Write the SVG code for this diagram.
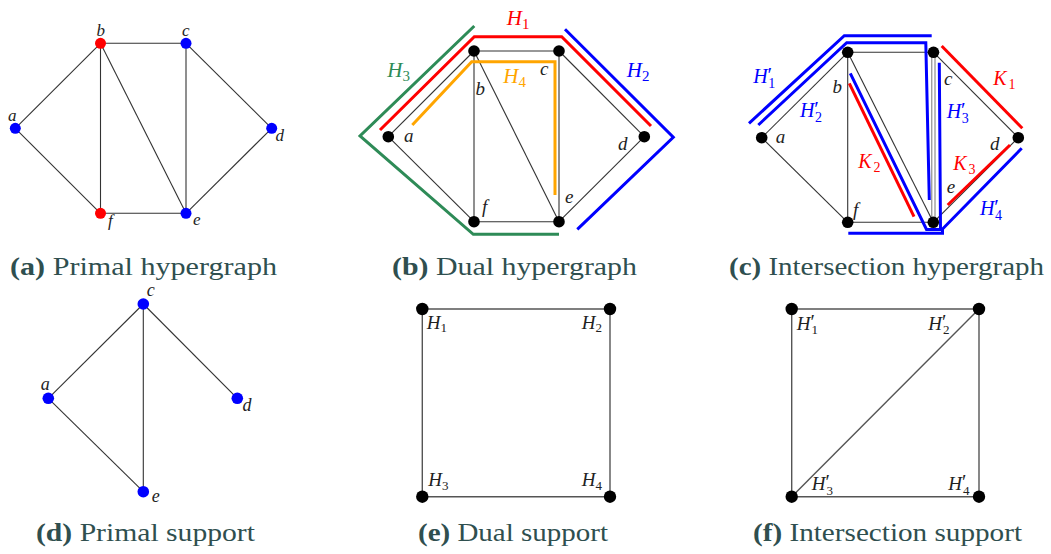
<svg xmlns="http://www.w3.org/2000/svg" width="1051" height="554" viewBox="0 0 1051 554">
<style>
.e{stroke:#333;stroke-width:1.1;fill:none}
.e2{stroke:#555;stroke-width:1.4;fill:none}
.h{stroke-width:3;fill:none}
.red{stroke:#ff0000}.blue{stroke:#0000ff}.green{stroke:#2e8b57}.orange{stroke:#ffa500}
.nr{fill:#ff0000}.nb{fill:#0000ff}.nk{fill:#000}
.m{font-family:"Liberation Serif",serif;font-style:italic;fill:#222}
.s{font-style:normal}
.p{font-style:normal}
.cap{font-family:"Liberation Serif",serif;fill:#2f4f4f;font-size:26px}
.bf{font-weight:bold}
</style>
<rect width="1051" height="554" fill="#fff"/>

<!-- connectors -->
<g id="connectors">
  <!-- (a) -->
  <g class="e">
    <line x1="15.3" y1="128.3" x2="100.5" y2="43.3"/>
    <line x1="15.3" y1="128.3" x2="100.5" y2="213.3"/>
    <line x1="100.5" y1="43.3" x2="186" y2="43.3"/>
    <line x1="100.5" y1="43.3" x2="100.5" y2="213.3"/>
    <line x1="100.5" y1="43.3" x2="186" y2="213.3"/>
    <line x1="186" y1="43.3" x2="186" y2="213.3"/>
    <line x1="186" y1="43.3" x2="271.7" y2="128.3"/>
    <line x1="271.7" y1="128.3" x2="186" y2="213.3"/>
    <line x1="100.5" y1="213.3" x2="186" y2="213.3"/>
  </g>
  <!-- (b) -->
  <g class="e">
    <line x1="388.3" y1="136.7" x2="474" y2="51"/>
    <line x1="388.3" y1="136.7" x2="474" y2="221.7"/>
    <line x1="474" y1="51" x2="559" y2="51"/>
    <line x1="474" y1="51" x2="474" y2="221.7"/>
    <line x1="474" y1="51" x2="559" y2="221.7"/>
    <line x1="559" y1="51" x2="559" y2="221.7"/>
    <line x1="559" y1="51" x2="644.3" y2="136.7"/>
    <line x1="644.3" y1="136.7" x2="559" y2="221.7"/>
    <line x1="474" y1="221.7" x2="559" y2="221.7"/>
  </g>
  <g class="h">
    <path class="red" d="M380,130 L474.3,36.7 L561.7,36.7 L651,126"/>
    <path class="green" d="M474.3,26 L360,136 L473.3,234.3 L559,234.3"/>
    <path class="blue" d="M565,29.3 L673.3,137.3 L577.3,229.3"/>
    <path class="orange" d="M412.3,125 L471.7,61.7 L555,61.7 L555,195"/>
  </g>
  <!-- (c) -->
  <g class="e">
    <line x1="761.7" y1="137.7" x2="847.7" y2="52.3"/>
    <line x1="761.7" y1="137.7" x2="847.7" y2="222.3"/>
    <line x1="847.7" y1="52.3" x2="933.5" y2="52.3"/>
    <line x1="847.7" y1="52.3" x2="847.7" y2="222.3"/>
    <line x1="847.7" y1="52.3" x2="933.3" y2="222.3"/>
    <line x1="933.5" y1="52.3" x2="1018.3" y2="137.7"/>
    <line x1="1018.3" y1="137.7" x2="933.3" y2="222.3"/>
    <line x1="847.7" y1="222.3" x2="933.3" y2="222.3"/>
  </g>
  <g stroke="#777" stroke-width="1" fill="none">
    <line x1="931.8" y1="52.3" x2="931.8" y2="222.3"/>
    <line x1="935" y1="52.3" x2="935" y2="222.3"/>
  </g>
  <g class="h">
    <path class="blue" d="M749,123.3 L844.3,35.7 L931.7,35.7"/>
    <path class="blue" d="M758.3,125 L846.7,42.7 L925.8,42.7 L929.3,200"/>
    <path class="blue" d="M850.3,73.3 L926.5,229.5 L940.5,229.5 L939.3,62.7"/>
    <path class="blue" d="M848.3,233.3 L942.5,233.3 L942.5,229 L1021.7,148.3"/>
    <path class="red" d="M941.7,46 L1022.3,128.3"/>
    <path class="red" d="M849.3,83.3 L914,216.7"/>
    <path class="red" d="M947.7,205 L1010,145"/>
  </g>
  <!-- (d) -->
  <g class="e">
    <line x1="143.3" y1="304" x2="48.3" y2="398.3"/>
    <line x1="143.3" y1="304" x2="143.3" y2="491.7"/>
    <line x1="143.3" y1="304" x2="237.3" y2="398.3"/>
    <line x1="48.3" y1="398.3" x2="143.3" y2="491.7"/>
  </g>
  <!-- (e) -->
  <g class="e2" stroke="#666">
    <line x1="422.3" y1="309" x2="610" y2="309"/>
    <line x1="422.3" y1="309" x2="422.3" y2="496.7"/>
    <line x1="610" y1="309" x2="610" y2="496.7"/>
    <line x1="422.3" y1="496.7" x2="610" y2="496.7"/>
  </g>
  <!-- (f) -->
  <g class="e2">
    <line x1="791.7" y1="309" x2="979" y2="309"/>
    <line x1="791.7" y1="309" x2="791.7" y2="496.7"/>
    <line x1="979" y1="309" x2="979" y2="496.7"/>
    <line x1="791.7" y1="496.7" x2="979" y2="496.7"/>
    <line x1="791.7" y1="496.7" x2="979" y2="309"/>
  </g>
</g>

<!-- hyperedge labels -->
<g id="hyperedge-labels" font-size="21">
  <text class="m" x="506.7" y="25" style="fill:#ff0000">H<tspan class="s" font-size="15" x="522" y="29">1</tspan></text>
  <text class="m" x="387.3" y="77" style="fill:#2e8b57">H<tspan class="s" font-size="15" x="402.6" y="81">3</tspan></text>
  <text class="m" x="626.7" y="77" style="fill:#0000ff">H<tspan class="s" font-size="15" x="642" y="81">2</tspan></text>
  <text class="m" x="503.3" y="83.3" style="fill:#ffa500">H<tspan class="s" font-size="15" x="518.6" y="87.3">4</tspan></text>

  <text class="m" font-size="20" x="753.3" y="83" style="fill:#0000ff">H<tspan class="p" font-size="21" x="767.5" y="82">′</tspan><tspan class="s" font-size="14" x="768.3" y="88">1</tspan></text>
  <text class="m" font-size="20" x="800" y="116.7" style="fill:#0000ff">H<tspan class="p" font-size="21" x="814.2" y="115.7">′</tspan><tspan class="s" font-size="14" x="815" y="121.7">2</tspan></text>
  <text class="m" font-size="20" x="946.7" y="118" style="fill:#0000ff">H<tspan class="p" font-size="21" x="960.9" y="117">′</tspan><tspan class="s" font-size="14" x="961.7" y="123">3</tspan></text>
  <text class="m" font-size="20" x="980" y="215" style="fill:#0000ff">H<tspan class="p" font-size="21" x="994.2" y="214">′</tspan><tspan class="s" font-size="14" x="995" y="220">4</tspan></text>
  <text class="m" font-size="20" x="993.3" y="85" style="fill:#ff0000">K<tspan class="s" font-size="14" x="1008.5" y="89">1</tspan></text>
  <text class="m" font-size="20" x="858.3" y="168" style="fill:#ff0000">K<tspan class="s" font-size="14" x="873.5" y="172">2</tspan></text>
  <text class="m" font-size="20" x="953.3" y="170" style="fill:#ff0000">K<tspan class="s" font-size="14" x="968.5" y="174">3</tspan></text>
</g>

<!-- (a) nodes -->
<g id="pa-b"><circle cx="100.5" cy="43.3" r="5.5" class="nr"/><text class="m" font-size="17" x="96.5" y="36">b</text></g>
<g id="pa-c"><circle cx="186" cy="43.3" r="5.5" class="nb"/><text class="m" font-size="17" x="182" y="36">c</text></g>
<g id="pa-a"><circle cx="15.3" cy="128.3" r="5.5" class="nb"/><text class="m" font-size="17" x="8" y="120.5">a</text></g>
<g id="pa-d"><circle cx="271.7" cy="128.3" r="5.5" class="nb"/><text class="m" font-size="17" x="275.5" y="141">d</text></g>
<g id="pa-f"><circle cx="100.5" cy="213.3" r="5.5" class="nr"/><text class="m" font-size="17" x="108" y="226">f</text></g>
<g id="pa-e"><circle cx="186" cy="213.3" r="5.5" class="nb"/><text class="m" font-size="17" x="193" y="225">e</text></g>

<!-- (b) nodes -->
<g id="pb-a"><circle cx="388.3" cy="136.7" r="5.8" class="nk"/><text class="m" font-size="19" x="404" y="141.7">a</text></g>
<g id="pb-b"><circle cx="474" cy="51" r="5.8" class="nk"/><text class="m" font-size="19" x="475.5" y="95">b</text></g>
<g id="pb-c"><circle cx="559" cy="51" r="5.8" class="nk"/><text class="m" font-size="19" x="540" y="75">c</text></g>
<g id="pb-d"><circle cx="644.3" cy="136.7" r="5.8" class="nk"/><text class="m" font-size="19" x="618" y="150">d</text></g>
<g id="pb-e"><circle cx="559" cy="221.7" r="5.8" class="nk"/><text class="m" font-size="19" x="565" y="203">e</text></g>
<g id="pb-f"><circle cx="474" cy="221.7" r="5.8" class="nk"/><text class="m" font-size="19" x="482" y="213">f</text></g>

<!-- (c) nodes -->
<g id="pc-a"><circle cx="761.7" cy="137.7" r="5.8" class="nk"/><text class="m" font-size="19" x="775.7" y="143">a</text></g>
<g id="pc-b"><circle cx="847.7" cy="52.3" r="5.8" class="nk"/><text class="m" font-size="19" x="832.5" y="93">b</text></g>
<g id="pc-c"><circle cx="933.5" cy="52.3" r="5.8" class="nk"/><text class="m" font-size="19" x="944" y="85">c</text></g>
<g id="pc-d"><circle cx="1018.3" cy="137.7" r="5.8" class="nk"/><text class="m" font-size="19" x="990" y="150">d</text></g>
<g id="pc-e"><circle cx="933.3" cy="222.3" r="5.8" class="nk"/><text class="m" font-size="19" x="946.7" y="193">e</text></g>
<g id="pc-f"><circle cx="847.7" cy="222.3" r="5.8" class="nk"/><text class="m" font-size="19" x="853" y="216">f</text></g>

<!-- (d) nodes -->
<g id="pd-c"><circle cx="143.3" cy="304" r="5.8" class="nb"/><text class="m" font-size="18" x="146.7" y="296">c</text></g>
<g id="pd-a"><circle cx="48.3" cy="398.3" r="5.8" class="nb"/><text class="m" font-size="18" x="40.7" y="390">a</text></g>
<g id="pd-d"><circle cx="237.3" cy="398.3" r="5.8" class="nb"/><text class="m" font-size="18" x="242.5" y="410.5">d</text></g>
<g id="pd-e"><circle cx="143.3" cy="491.7" r="5.8" class="nb"/><text class="m" font-size="18" x="151.7" y="502">e</text></g>

<!-- (e) nodes -->
<g id="pe-H1"><circle cx="422.3" cy="309" r="6.2" class="nk"/><text class="m" font-size="19" x="426.7" y="328.5">H<tspan class="s" font-size="13" x="440.5" y="332">1</tspan></text></g>
<g id="pe-H2"><circle cx="610" cy="309" r="6.2" class="nk"/><text class="m" font-size="19" x="581.7" y="328.5">H<tspan class="s" font-size="13" x="595.5" y="332">2</tspan></text></g>
<g id="pe-H3"><circle cx="422.3" cy="496.7" r="6.2" class="nk"/><text class="m" font-size="19" x="428.3" y="486">H<tspan class="s" font-size="13" x="442" y="489.5">3</tspan></text></g>
<g id="pe-H4"><circle cx="610" cy="496.7" r="6.2" class="nk"/><text class="m" font-size="19" x="581.7" y="486">H<tspan class="s" font-size="13" x="595.5" y="489.5">4</tspan></text></g>

<!-- (f) nodes -->
<g id="pf-H1"><circle cx="791.7" cy="309" r="6.2" class="nk"/><text class="m" font-size="19" x="796.7" y="329.5">H<tspan class="p" font-size="20" x="810.5" y="328.5">′</tspan><tspan class="s" font-size="13" x="811.5" y="334">1</tspan></text></g>
<g id="pf-H2"><circle cx="979" cy="309" r="6.2" class="nk"/><text class="m" font-size="19" x="928.3" y="329.5">H<tspan class="p" font-size="20" x="942.1" y="328.5">′</tspan><tspan class="s" font-size="13" x="943.1" y="334">2</tspan></text></g>
<g id="pf-H3"><circle cx="791.7" cy="496.7" r="6.2" class="nk"/><text class="m" font-size="19" x="811.7" y="490">H<tspan class="p" font-size="20" x="825.5" y="489">′</tspan><tspan class="s" font-size="13" x="826.5" y="494.5">3</tspan></text></g>
<g id="pf-H4"><circle cx="979" cy="496.7" r="6.2" class="nk"/><text class="m" font-size="19" x="948.3" y="490">H<tspan class="p" font-size="20" x="962.1" y="489">′</tspan><tspan class="s" font-size="13" x="963.1" y="494.5">4</tspan></text></g>

<!-- captions -->
<g id="captions">
  <text class="cap" x="10" y="275" textLength="267" lengthAdjust="spacingAndGlyphs"><tspan class="bf">(a)</tspan> Primal hypergraph</text>
  <text class="cap" x="392" y="275" textLength="245" lengthAdjust="spacingAndGlyphs"><tspan class="bf">(b)</tspan> Dual hypergraph</text>
  <text class="cap" x="729" y="275" textLength="315" lengthAdjust="spacingAndGlyphs"><tspan class="bf">(c)</tspan> Intersection hypergraph</text>
  <text class="cap" x="36" y="541" textLength="219" lengthAdjust="spacingAndGlyphs"><tspan class="bf">(d)</tspan> Primal support</text>
  <text class="cap" x="418" y="541" textLength="190" lengthAdjust="spacingAndGlyphs"><tspan class="bf">(e)</tspan> Dual support</text>
  <text class="cap" x="753" y="541" textLength="269" lengthAdjust="spacingAndGlyphs"><tspan class="bf">(f)</tspan> Intersection support</text>
</g>
</svg>
